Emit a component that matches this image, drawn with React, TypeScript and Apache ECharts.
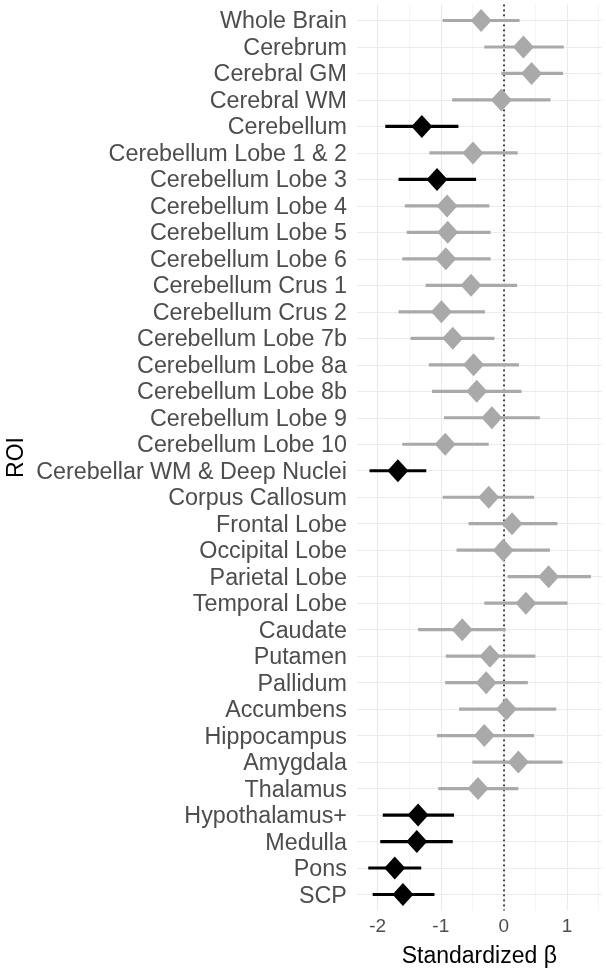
import React, { useEffect, useRef } from "react";
import * as echarts from "echarts";

const categories = [
  "Whole Brain", "Cerebrum", "Cerebral GM", "Cerebral WM", "Cerebellum",
  "Cerebellum Lobe 1 & 2", "Cerebellum Lobe 3", "Cerebellum Lobe 4", "Cerebellum Lobe 5",
  "Cerebellum Lobe 6", "Cerebellum Crus 1", "Cerebellum Crus 2", "Cerebellum Lobe 7b",
  "Cerebellum Lobe 8a", "Cerebellum Lobe 8b", "Cerebellum Lobe 9", "Cerebellum Lobe 10",
  "Cerebellar WM & Deep Nuclei", "Corpus Callosum", "Frontal Lobe", "Occipital Lobe",
  "Parietal Lobe", "Temporal Lobe", "Caudate", "Putamen", "Pallidum", "Accumbens",
  "Hippocampus", "Amygdala", "Thalamus", "Hypothalamus+", "Medulla", "Pons", "SCP",
];

const beta = [
  -0.36, 0.31, 0.44, -0.04, -1.30, -0.49, -1.06, -0.90, -0.89, -0.92, -0.52, -0.99,
  -0.81, -0.48, -0.43, -0.19, -0.93, -1.68, -0.24, 0.13, -0.01, 0.71, 0.35, -0.66,
  -0.22, -0.28, 0.04, -0.31, 0.23, -0.41, -1.36, -1.38, -1.73, -1.60,
];
const lower = [
  -0.97, -0.31, -0.04, -0.82, -1.88, -1.18, -1.67, -1.57, -1.54, -1.61, -1.24, -1.67,
  -1.48, -1.19, -1.14, -0.95, -1.61, -2.13, -0.97, -0.56, -0.75, 0.06, -0.31, -1.36,
  -0.92, -0.93, -0.71, -1.06, -0.50, -1.04, -1.92, -1.96, -2.15, -2.08,
];
const upper = [
  0.25, 0.95, 0.94, 0.74, -0.72, 0.22, -0.44, -0.23, -0.21, -0.21, 0.21, -0.30,
  -0.15, 0.24, 0.28, 0.57, -0.24, -1.23, 0.48, 0.85, 0.73, 1.38, 1.01, 0.03,
  0.50, 0.38, 0.83, 0.48, 0.93, 0.23, -0.79, -0.81, -1.31, -1.10,
];
const significant = [
  false, false, false, false, true, false, true, false, false, false, false, false,
  false, false, false, false, false, true, false, false, false, false, false, false,
  false, false, false, false, false, false, true, true, true, true,
];

const xTicks = [-2, -1, 0, 1];
const xMinor = [-1.5, -0.5, 0.5, 1.5];

const GREY = "#A9A9A9";
const FONT = "Liberation Sans, Arial, Helvetica, sans-serif";

export default function App() {
  const ref = useRef<HTMLDivElement>(null);
  useEffect(() => {
    if (!ref.current) return;
    const chart = echarts.init(ref.current, null, { renderer: "svg" });
    const rowIdx = categories.map((_, i) => i);
    const gridLines: any[] = [];
    xTicks.forEach((v) =>
      gridLines.push({ xAxis: v, lineStyle: { color: "#EBEBEB", width: 1.2, type: "solid" } })
    );
    xMinor.forEach((v) =>
      gridLines.push({ xAxis: v, lineStyle: { color: "#F2F2F2", width: 0.8, type: "solid" } })
    );
    rowIdx.forEach((i) =>
      gridLines.push({ yAxis: i, lineStyle: { color: "#EBEBEB", width: 1.2, type: "solid" } })
    );
    gridLines.push({ xAxis: 0, lineStyle: { color: "#111", width: 1.6, type: [1.6, 3.4] } });

    const option: any = {
      animation: false,
      grid: { left: 356.9, right: 4.4, top: 4.6, bottom: 60.6, containLabel: false },
      xAxis: {
        type: "value",
        min: -2.33,
        max: 1.55,
        axisLine: { show: false },
        axisTick: { show: false },
        splitLine: { show: false },
        axisLabel: {
          customValues: xTicks,
          formatter: (v: number) => String(v),
          fontSize: 19,
          color: "#4D4D4D",
          fontFamily: FONT,
          margin: 6,
        },
      },
      yAxis: {
        type: "value",
        min: -0.6,
        max: 33.6,
        inverse: true,
        axisLine: { show: false },
        axisTick: { show: false },
        splitLine: { show: false },
        axisLabel: {
          customValues: rowIdx,
          formatter: (v: number) => categories[Math.round(v)] ?? "",
          fontSize: 23.3,
          color: "#4D4D4D",
          fontFamily: FONT,
          margin: 10,
        },
      },
      graphic: [
        {
          type: "text",
          x: 479.3,
          y: 955,
          style: {
            text: "Standardized β",
            align: "center",
            verticalAlign: "middle",
            fontSize: 23,
            fontFamily: FONT,
            fill: "#000",
          },
        },
        {
          type: "text",
          x: 15,
          y: 457.5,
          rotation: Math.PI / 2,
          style: {
            text: "ROI",
            align: "center",
            verticalAlign: "middle",
            fontSize: 23,
            fontFamily: FONT,
            fill: "#000",
          },
        },
      ],
      series: [
        {
          type: "scatter",
          data: [],
          z: 0,
          silent: true,
          markLine: {
            z: 0,
            silent: true,
            symbol: ["none", "none"],
            label: { show: false },
            animation: false,
            data: gridLines,
          },
        },
        {
          type: "custom",
          z: 10,
          silent: true,
          encode: { x: [0, 1], y: 2 },
          data: rowIdx.map((i) => [lower[i], upper[i], i]),
          renderItem: (params: any, api: any) => {
            const i = api.value(2);
            const p1 = api.coord([api.value(0), i]);
            const p2 = api.coord([api.value(1), i]);
            return {
              type: "line",
              shape: { x1: p1[0], y1: p1[1], x2: p2[0], y2: p2[1] },
              style: { stroke: significant[i] ? "#000" : GREY, lineWidth: 3.2 },
            };
          },
        },
        {
          type: "scatter",
          z: 11,
          silent: true,
          symbol: "diamond",
          symbolSize: [21, 23],
          data: rowIdx.map((i) => ({
            value: [beta[i], i],
            itemStyle: { color: significant[i] ? "#000" : GREY, opacity: 1 },
          })),
        },
      ],
    };
    chart.setOption(option);
    return () => chart.dispose();
  }, []);
  return (
    <div
      ref={ref}
      style={{ position: "fixed", left: 0, top: 0, width: 606, height: 971 }}
    />
  );
}
